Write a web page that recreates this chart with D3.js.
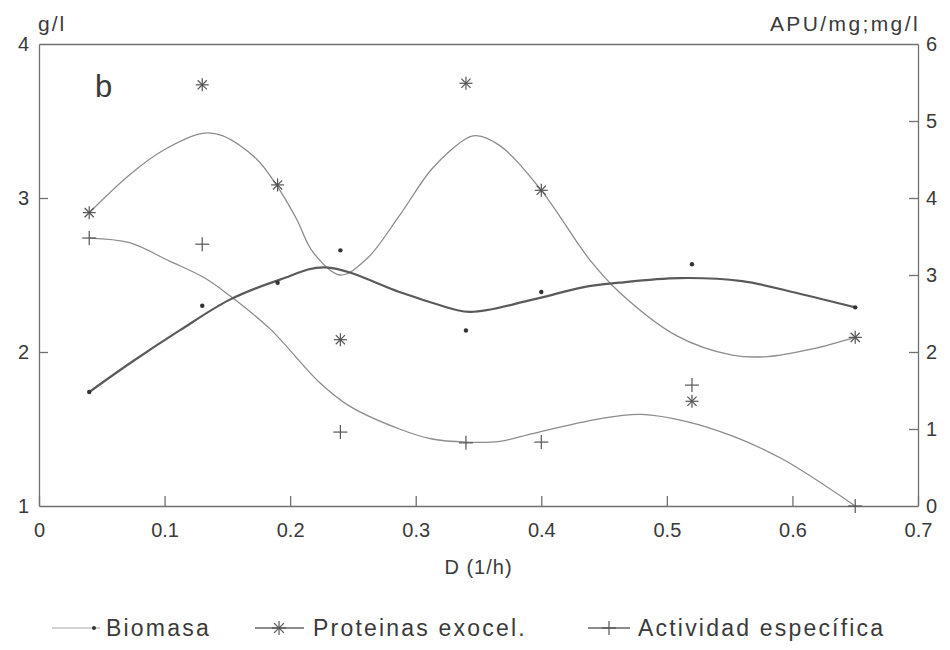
<!DOCTYPE html>
<html lang="es">
<head>
<meta charset="utf-8">
<title>Biomasa, proteinas y actividad vs D</title>
<script src="https://d3js.org/d3.v7.min.js"></script>
<style>
  body { margin: 0; background: #fff; }
  svg text { font-family: "Liberation Sans", Arial, sans-serif; fill: #3a3a3a; }
  .axis path, .axis line { stroke: #707070; stroke-width: 1.3; fill: none; }
  .axis text { font-size: 20px; }
</style>
</head>
<body>
<div id="chart"></div>
<script>
// measured points (D in 1/h)
var dilution = [0.04, 0.13, 0.19, 0.24, 0.34, 0.40, 0.52, 0.65];
var biomasa   = [1.74, 2.30, 2.45, 2.66, 2.14, 2.39, 2.57, 2.29];          // g/l, left axis
var proteinas = [3.81, 5.47, 4.17, 2.16, 5.49, 4.10, 1.36, 2.19];          // mg/l, right axis
var actividad = [3.48, 3.40, null, 0.96, 0.82, 0.83, 1.57, 0.00];          // APU/mg, right axis

// fitted curves
var biomasaFitX = [0.04, 0.073, 0.112, 0.152, 0.192, 0.228, 0.287, 0.313, 0.343, 0.393, 0.433, 0.462, 0.51, 0.56, 0.605, 0.65];
var biomasaFit  = [1.74, 1.93, 2.14, 2.34, 2.47, 2.55, 2.39, 2.32, 2.26, 2.34, 2.42, 2.45, 2.48, 2.46, 2.38, 2.29];

var proteinasFitX = [0.04, 0.072, 0.099, 0.13, 0.146, 0.173, 0.189, 0.205, 0.218, 0.24, 0.261, 0.287, 0.313, 0.34, 0.348, 0.367, 0.40, 0.438, 0.462, 0.508, 0.552, 0.58, 0.616, 0.65];
var proteinasFit  = [3.81, 4.30, 4.62, 4.84, 4.81, 4.51, 4.17, 3.73, 3.30, 3.00, 3.21, 3.77, 4.38, 4.77, 4.81, 4.68, 4.10, 3.21, 2.78, 2.21, 1.96, 1.94, 2.04, 2.19];

var actividadFitX = [0.04, 0.072, 0.104, 0.131, 0.152, 0.184, 0.223, 0.247, 0.287, 0.313, 0.34, 0.367, 0.393, 0.433, 0.462, 0.48, 0.515, 0.552, 0.592, 0.65];
var actividadFit  = [3.48, 3.42, 3.18, 2.97, 2.73, 2.30, 1.61, 1.30, 1.00, 0.87, 0.83, 0.84, 0.94, 1.09, 1.17, 1.19, 1.10, 0.91, 0.61, 0.00];

var xTicks = [0, 0.1, 0.2, 0.3, 0.4, 0.5, 0.6, 0.7];
var xTickLabels = ["0", "0.1", "0.2", "0.3", "0.4", "0.5", "0.6", "0.7"];
var leftTicks = [1, 2, 3, 4];
var rightTicks = [0, 1, 2, 3, 4, 5, 6];
var seriesNames = ["Biomasa", "Proteinas exocel.", "Actividad específica"];

var W = 950, H = 650;
var plotL = 39, plotR = 918, plotT = 44, plotB = 506;

var svg = d3.select("#chart").append("svg")
    .attr("width", W)
    .attr("height", H);

var x = d3.scaleLinear().domain([0, 0.7]).range([plotL, plotR]);
var yL = d3.scaleLinear().domain([1, 4]).range([plotB, plotT]);
var yR = d3.scaleLinear().domain([0, 6]).range([plotB, plotT]);

// axes, ticks pointing inward
svg.append("g").attr("class", "axis")
    .attr("transform", "translate(0," + plotB + ")")
    .call(d3.axisBottom(x).tickValues(xTicks)
        .tickFormat(function(d, i) { return xTickLabels[i]; })
        .tickSize(-10).tickSizeOuter(0).tickPadding(17));

svg.append("g").attr("class", "axis")
    .attr("transform", "translate(0," + plotT + ")")
    .call(d3.axisTop(x).tickValues([]).tickSizeOuter(0));

var leftAxis = svg.append("g").attr("class", "axis")
    .attr("transform", "translate(" + plotL + ",0)")
    .call(d3.axisLeft(yL).tickValues(leftTicks).tickFormat(d3.format("d"))
        .tickSize(-9).tickSizeOuter(0).tickPadding(10));

var rightAxis = svg.append("g").attr("class", "axis")
    .attr("transform", "translate(" + plotR + ",0)")
    .call(d3.axisRight(yR).tickValues(rightTicks).tickFormat(d3.format("d"))
        .tickSize(-9).tickSizeOuter(0).tickPadding(8));

// no tick marks on the corners
leftAxis.selectAll(".tick line").filter(function(d) { return d === 1 || d === 4; }).remove();
rightAxis.selectAll(".tick line").filter(function(d) { return d === 0 || d === 6; }).remove();

// axis titles
svg.append("text").attr("x", plotL - 1).attr("y", 31)
    .style("font-size", "21px").style("letter-spacing", "2px").text("g/l");
svg.append("text").attr("x", plotR + 2).attr("y", 31)
    .attr("text-anchor", "end")
    .style("font-size", "21px").style("letter-spacing", "2.4px").text("APU/mg;mg/l");
svg.append("text").attr("x", (plotL + plotR) / 2).attr("y", plotB + 68)
    .attr("text-anchor", "middle")
    .style("font-size", "20px").style("letter-spacing", "1px").text("D (1/h)");
svg.append("text").attr("x", 95).attr("y", 97)
    .style("font-size", "31px").text("b");

// fitted curves
var line = d3.line().curve(d3.curveCatmullRom.alpha(0.5));

function fitPoints(xs, ys, yScale) {
    return xs.map(function(v, i) { return [x(v), yScale(ys[i])]; });
}

svg.append("path")
    .attr("d", line(fitPoints(proteinasFitX, proteinasFit, yR)))
    .attr("fill", "none").attr("stroke", "#8c8c8c").attr("stroke-width", 1.3);

svg.append("path")
    .attr("d", line(fitPoints(actividadFitX, actividadFit, yR)))
    .attr("fill", "none").attr("stroke", "#8c8c8c").attr("stroke-width", 1.3);

svg.append("path")
    .attr("d", line(fitPoints(biomasaFitX, biomasaFit, yL)))
    .attr("fill", "none").attr("stroke", "#5a5a5a").attr("stroke-width", 2.2);

// markers
function asterisk(g, r) {
    var k = r * Math.SQRT1_2;
    g.append("line").attr("x1", -r).attr("x2", r).attr("y1", 0).attr("y2", 0);
    g.append("line").attr("x1", 0).attr("x2", 0).attr("y1", -r).attr("y2", r);
    g.append("line").attr("x1", -k).attr("x2", k).attr("y1", -k).attr("y2", k);
    g.append("line").attr("x1", -k).attr("x2", k).attr("y1", k).attr("y2", -k);
}
function plus(g, r) {
    g.append("line").attr("x1", -r).attr("x2", r).attr("y1", 0).attr("y2", 0);
    g.append("line").attr("x1", 0).attr("x2", 0).attr("y1", -r).attr("y2", r);
}

svg.append("g").selectAll("circle")
    .data(dilution.map(function(d, i) { return [d, biomasa[i]]; }))
    .join("circle")
    .attr("cx", function(d) { return x(d[0]); })
    .attr("cy", function(d) { return yL(d[1]); })
    .attr("r", 2.2)
    .attr("fill", "#333");

svg.append("g").selectAll("g")
    .data(dilution.map(function(d, i) { return [d, proteinas[i]]; }))
    .join("g")
    .attr("transform", function(d) { return "translate(" + x(d[0]) + "," + yR(d[1]) + ")"; })
    .attr("stroke", "#555").attr("stroke-width", 1.2)
    .each(function() { asterisk(d3.select(this), 6.5); });

svg.append("g").selectAll("g")
    .data(dilution.map(function(d, i) { return [d, actividad[i]]; })
        .filter(function(d) { return d[1] !== null; }))
    .join("g")
    .attr("transform", function(d) { return "translate(" + x(d[0]) + "," + yR(d[1]) + ")"; })
    .attr("stroke", "#555").attr("stroke-width", 1.2)
    .each(function() { plus(d3.select(this), 7); });

// legend
var legendY = 628;
var legendLine = [[52, 100], [255, 304], [588, 630]];
var legendMark = [94, 279, 609];
var legendText = [106, 313, 638];
var legend = svg.append("g");
seriesNames.forEach(function(name, i) {
    var g = legend.append("g");
    g.append("line")
        .attr("x1", legendLine[i][0]).attr("x2", legendLine[i][1])
        .attr("y1", legendY).attr("y2", legendY)
        .attr("stroke", i === 0 ? "#c4c4c4" : "#666").attr("stroke-width", 1.3);
    var m = g.append("g")
        .attr("transform", "translate(" + legendMark[i] + "," + legendY + ")")
        .attr("stroke", "#555").attr("stroke-width", 1.2);
    if (i === 0) m.append("circle").attr("r", 2).attr("fill", "#333").attr("stroke", "none");
    if (i === 1) asterisk(m, 7);
    if (i === 2) plus(m, 7);
    g.append("text")
        .attr("x", legendText[i]).attr("y", legendY + 8)
        .style("font-size", "23px").style("letter-spacing", "2.2px")
        .text(name);
});
</script>
</body>
</html>
